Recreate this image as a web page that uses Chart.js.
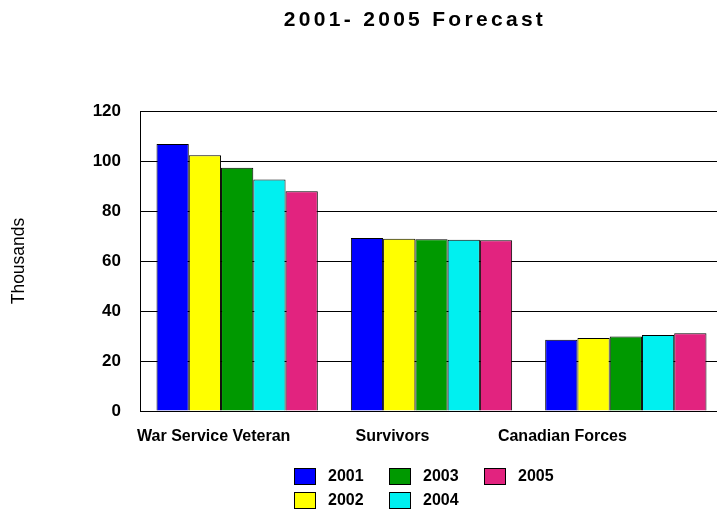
<!DOCTYPE html>
<html>
<head>
<meta charset="utf-8">
<script src="https://cdn.jsdelivr.net/npm/chart.js"></script>
<style>
  html, body { margin: 0; padding: 0; background: #fff; overflow: hidden; }
  #wrap { width: 723px; height: 512px; position: relative; }
</style>
</head>
<body>
<div id="wrap"><canvas id="chart"></canvas></div>
<script>
const chartTitle = "2001- 2005 Forecast";
const yAxisLabel = "Thousands";
const categories = ["War Service Veteran", "Survivors", "Canadian Forces"];
const years = ["2001", "2002", "2003", "2004", "2005"];
const colors = ["#0000FF", "#FFFF00", "#009900", "#00F0F0", "#E2237F"];

// one array per year: WSV, Survivors, CF
const values2001 = [106.8, 69.2, 28.5];
const values2002 = [102.3, 68.9, 29.2];
const values2003 = [97.3, 68.7, 29.8];
const values2004 = [92.6, 68.5, 30.4];
const values2005 = [87.9, 68.3, 31.1];
const yTicks = [0, 20, 40, 60, 80, 100, 120];

const series = [values2001, values2002, values2003, values2004, values2005];

const FONT = "'Liberation Sans', Arial, sans-serif";

// the original labels sit a bit off their category centres;
// nudge them with spaces (lead, trail) per label
const labelNudge = [[7, 0], [0, 0], [0, 11]];

// title with letter spacing
const titlePlugin = {
  id: "spacedTitle",
  afterDraw(chart) {
    const ctx = chart.ctx;
    ctx.save();
    ctx.font = "bold 21px " + FONT;
    ctx.letterSpacing = "3.3px";
    ctx.fillStyle = "#000";
    ctx.textAlign = "center";
    ctx.textBaseline = "middle";
    ctx.fillText(chartTitle, 415, 20);
    ctx.restore();
  },
};

// legend in a 3-column grid under the chart
const gridLegend = {
  id: "gridLegend",
  afterDraw(chart) {
    const ctx = chart.ctx;
    const x0 = 294, y0 = 468, colStep = 95, rowStep = 24;
    ctx.save();
    ctx.font = "bold 16px " + FONT;
    ctx.textBaseline = "middle";
    ctx.textAlign = "left";
    chart.data.datasets.forEach((ds, i) => {
      const col = Math.floor(i / 2);
      const row = i % 2;
      const x = x0 + col * colStep;
      const y = y0 + row * rowStep;
      ctx.fillStyle = ds.backgroundColor;
      ctx.fillRect(x, y, 22, 17);
      ctx.strokeStyle = "#000";
      ctx.lineWidth = 1;
      ctx.strokeRect(x + 0.5, y + 0.5, 21, 16);
      ctx.fillStyle = "#000";
      ctx.fillText(ds.label, x + 34, y + 9);
    });
    ctx.restore();
  },
};

new Chart(document.getElementById("chart"), {
  type: "bar",
  data: {
    labels: categories,
    datasets: years.map((y, i) => ({
      label: y,
      data: series[i],
      backgroundColor: colors[i],
      borderColor: "#000",
      borderWidth: 1,
      barPercentage: 1,
      categoryPercentage: 0.83,
    })),
  },
  options: {
    responsive: true,
    maintainAspectRatio: false,
    animation: false,
    layout: { padding: { top: 111, right: 0, bottom: 61, left: 0 } },
    plugins: {
      legend: { display: false },
      title: { display: false },
      tooltip: { enabled: false },
    },
    scales: {
      x: {
        grid: { display: false },
        border: { display: true, color: "#000", width: 1 },
        ticks: {
          color: "#000",
          font: { family: FONT, size: 16, weight: "bold" },
          padding: 8,
          labelOffset: -39,
          maxRotation: 0,
          autoSkip: false,
          callback(value, index) {
            const [lead, trail] = labelNudge[index];
            return " ".repeat(lead) + categories[index] + " ".repeat(trail);
          },
        },
        afterFit(scale) { scale.height = 40; },
      },
      y: {
        min: 0,
        max: 120,
        afterBuildTicks(scale) { scale.ticks = yTicks.map(v => ({ value: v })); },
        grid: { color: "#000", lineWidth: 1, drawTicks: false },
        border: { display: true, color: "#000", width: 1 },
        ticks: {
          color: "#000",
          font: { family: FONT, size: 17, weight: "bold" },
          padding: 19,
        },
        title: {
          display: true,
          text: yAxisLabel,
          color: "#000",
          font: { family: FONT, size: 17.5, weight: "normal" },
          padding: { top: 9, bottom: 0 },
        },
        afterFit(scale) { scale.width = 140; },
      },
    },
  },
  plugins: [titlePlugin, gridLegend],
});
</script>
</body>
</html>
